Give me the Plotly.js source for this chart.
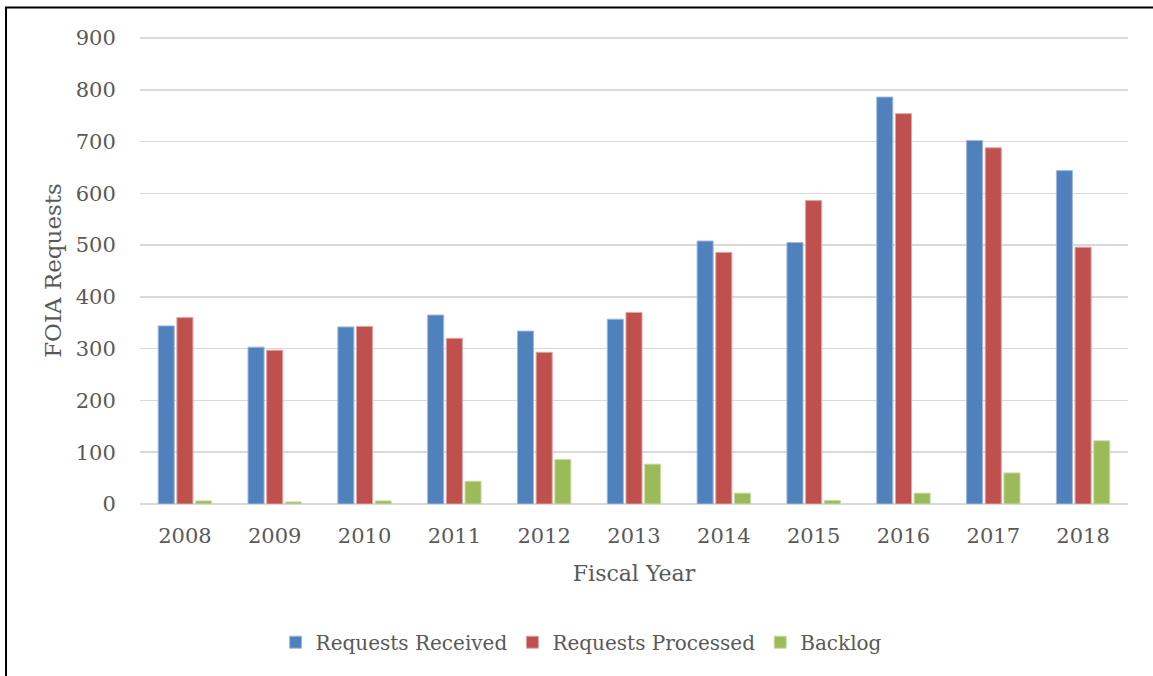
<!DOCTYPE html>
<html>
<head>
<meta charset="utf-8">
<script src="https://cdn.plot.ly/plotly-3.0.1.min.js"></script>
<style>
  html, body { margin: 0; padding: 0; background: #ffffff; }
  #chart { width: 1153px; height: 676px; }
</style>
</head>
<body>
<div id="chart"></div>
<script>
const years = ['2008','2009','2010','2011','2012','2013','2014','2015','2016','2017','2018'];
const requestsReceived  = [344, 303, 342, 365, 334, 357, 508, 505, 786, 702, 644];
const requestsProcessed = [360, 297, 343, 320, 293, 370, 486, 586, 754, 688, 496];
const backlog           = [6, 4, 6, 44, 86, 77, 21, 7, 21, 60, 122];
const yTicks = [0, 100, 200, 300, 400, 500, 600, 700, 800, 900];

const seriesNames = ['Requests Received', 'Requests Processed', 'Backlog'];
const seriesColors = ['#4f81bd', '#c0504d', '#9bbb59'];
const seriesEdges = ['#9fb9dd', '#dea5a3', '#c9dba6'];
const seriesValues = [requestsReceived, requestsProcessed, backlog];

const font = 'DejaVu Serif, Cambria, serif';
const textColor = '#595959';

const traces = seriesValues.map((vals, i) => ({
  type: 'bar',
  name: seriesNames[i],
  x: years,
  y: vals,
  marker: { color: seriesColors[i], line: { color: seriesEdges[i], width: 1 } },
  hoverinfo: 'x+y+name'
}));

const layout = {
  width: 1153,
  height: 676,
  paper_bgcolor: '#ffffff',
  plot_bgcolor: '#ffffff',
  margin: { l: 140, r: 25, t: 37, b: 172 },
  barmode: 'group',
  bargap: 0.376,
  bargroupgap: 0.14,
  font: { family: font, color: textColor, size: 21 },
  xaxis: {
    type: 'category',
    tickfont: { family: font, size: 21, color: textColor },
    ticks: 'outside', ticklen: 13, tickcolor: 'rgba(0,0,0,0)',
    showline: false, showgrid: false, zeroline: false,
    title: { text: 'Fiscal Year', font: { family: font, size: 22, color: textColor }, standoff: 18 }
  },
  yaxis: {
    range: [0, 902],
    tickvals: yTicks,
    ticktext: yTicks.map(String),
    tickfont: { family: font, size: 21, color: textColor },
    ticks: 'outside', ticklen: 19, tickcolor: 'rgba(0,0,0,0)',
    showgrid: true, gridcolor: '#d9d9d9', gridwidth: 1.5,
    zeroline: true, zerolinecolor: '#d9d9d9', zerolinewidth: 1.5,
    showline: false,
    title: { text: 'FOIA Requests', font: { family: font, size: 23, color: textColor }, standoff: 7 }
  },
  legend: {
    orientation: 'h',
    xref: 'container', yref: 'container',
    x: 0.504, xanchor: 'center',
    y: 0.05, yanchor: 'middle',
    font: { family: font, size: 20, color: textColor },
    bgcolor: 'rgba(0,0,0,0)'
  },
  shapes: [{
    type: 'rect', xref: 'paper', yref: 'paper',
    x0: -0.1356, x1: 1.3, y0: -0.6, y1: 1.0633,
    line: { color: '#000000', width: 2 },
    fillcolor: 'rgba(0,0,0,0)',
    layer: 'above'
  }],
  showlegend: true
};

Plotly.newPlot('chart', traces, layout, { displayModeBar: false, staticPlot: true });
</script>
</body>
</html>
